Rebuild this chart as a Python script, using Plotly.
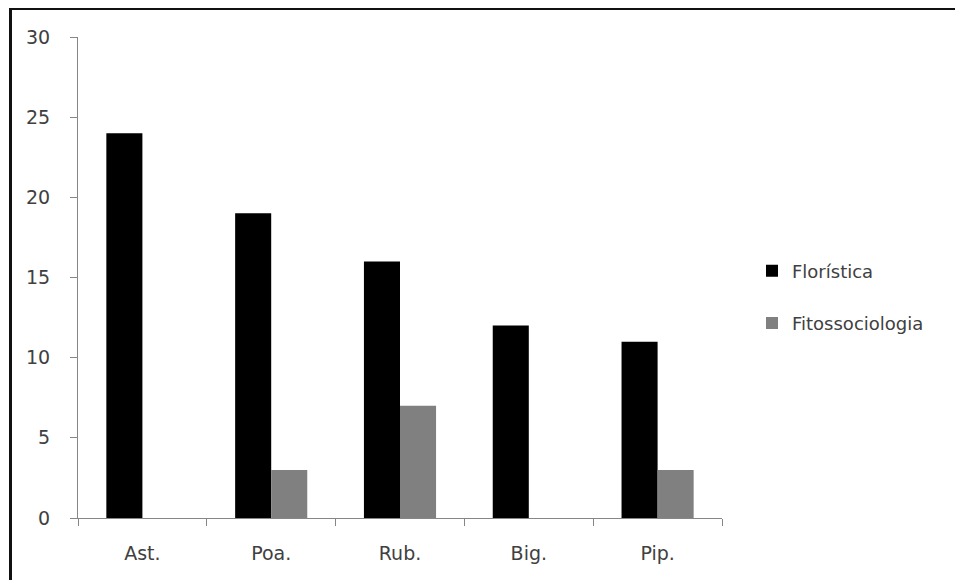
import plotly.graph_objects as go

categories = ["Ast.", "Poa.", "Rub.", "Big.", "Pip."]
floristica = [24, 19, 16, 12, 11]
fitossociologia = [0, 3, 7, 0, 3]
y_ticks = [0, 5, 10, 15, 20, 25, 30]

# page body has an 8px margin, so the figure is sized to fit inside the window
OFF = 8
W, H = 963 - OFF, 580 - OFF
L, R, T, B = 78 - OFF, 963 - 722, 37 - OFF, 580 - 518
pw, ph = W - L - R, H - T - B

def px_x(x):
    return (x - OFF - L) / pw

def px_y(y):
    return (H - B - (y - OFF)) / ph

fig = go.Figure()
fig.add_trace(go.Bar(x=categories, y=floristica, name="Florística",
                     marker=dict(color="#000000", line=dict(width=0)),
                     legendgroup="a"))
fig.add_trace(go.Bar(x=categories, y=fitossociologia, name="Fitossociologia",
                     marker=dict(color="#808080", line=dict(width=0)),
                     legendgroup="b"))

font = dict(family="DejaVu Sans, sans-serif", size=19, color="#404040")

fig.update_layout(
    width=W, height=H,
    margin=dict(l=L, r=R, t=T, b=B),
    paper_bgcolor="white", plot_bgcolor="white",
    barmode="group", bargap=0.44, bargroupgap=0,
    font=font,
    showlegend=True,
    legend=dict(x=px_x(752), xanchor="left", y=px_y(297), yanchor="middle",
                tracegroupgap=26, font=dict(size=18, color="#404040"),
                bgcolor="rgba(0,0,0,0)", itemwidth=30),
    xaxis=dict(showline=True, linecolor="#868686", linewidth=1,
               ticks="outside", ticklen=7, tickcolor="#868686",
               tickson="boundaries", showgrid=False,
               ticklabelstandoff=18, zeroline=False),
    yaxis=dict(range=[0, 30], tickvals=y_ticks, showline=True,
               linecolor="#868686", linewidth=1, ticks="outside",
               ticklen=7, tickcolor="#868686", showgrid=False,
               zeroline=False, ticklabelstandoff=16),
    shapes=[
        dict(type="line", xref="paper", yref="paper",
             x0=px_x(10.5), x1=px_x(10.5), y0=px_y(8), y1=px_y(640),
             line=dict(color="#111111", width=3)),
        dict(type="line", xref="paper", yref="paper",
             x0=px_x(9), x1=px_x(1050), y0=px_y(9), y1=px_y(9),
             line=dict(color="#111111", width=2)),
    ],
)

fig.write_html("out.html")
